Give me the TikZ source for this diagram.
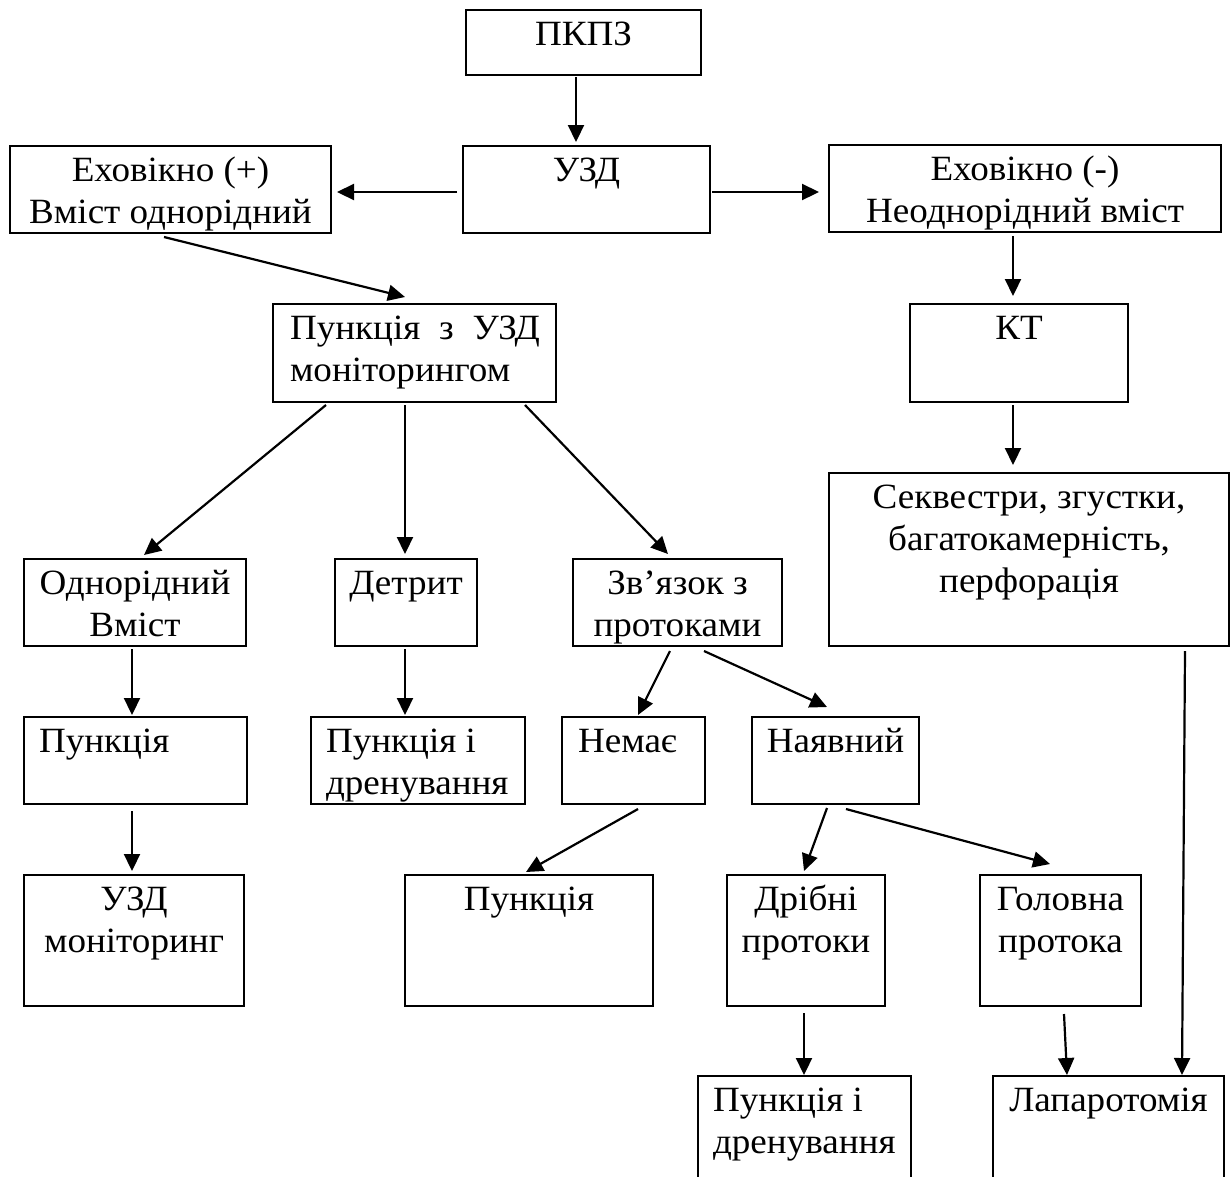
\documentclass[tikz,border=0pt]{standalone}
\usepackage{fontspec}
\setmainfont{Liberation Serif}[FakeStretch=1.045]
\usetikzlibrary{arrows.meta,calc}
\newcommand\bxc[3]{\parbox[c][#2][t]{#1}{\lineskiplimit=-100pt\centering\rule{0pt}{35.5pt}#3\par}}
\newcommand\bxl[4]{\parbox[c][#2][t]{#1}{\lineskiplimit=-100pt\leftskip=#3\relax\rightskip=0pt plus 1fil\rule{0pt}{35.5pt}#4\par}}
\tikzset{
  box/.style={draw, line width=2.6pt, inner sep=0pt, outer sep=0pt, anchor=north west,
    font=\fontsize{35.5}{42}\selectfont},
  arr/.style={line width=2.2pt, -{Triangle[length=17pt,width=16pt]}}
}
\begin{document}
\begin{tikzpicture}[x=1pt,y=-1pt]
\useasboundingbox (0,0) rectangle (1231,1176);
\fill[white] (0,0) rectangle (1231,1176);
\clip (0,0) rectangle (1231,1176);
% boxes
\node[box] (pkpz)   at (466,10)   {\bxc{235pt}{65pt}{ПКПЗ}};
\node[box] (uzd)    at (463,146)  {\bxc{247pt}{87pt}{УЗД}};
\node[box] (eplus)  at (10,146)   {\bxc{321pt}{87pt}{Еховікно (+)\\Вміст однорідний}};
\node[box] (eminus) at (829,145)  {\bxc{392pt}{87pt}{Еховікно (-)\\Неоднорідний вміст}};
\node[box] (punk1)  at (273,304)  {\parbox[c][98pt][t]{283pt}{\lineskiplimit=-100pt\leftskip=17pt\rightskip=16pt\rule{0pt}{35pt}Пункція\hfill з\hfill УЗД\\моніторингом\par}};
\node[box] (kt)     at (910,304)  {\bxc{218pt}{98pt}{КТ}};
\node[box] (odn)    at (24,559)   {\bxc{222pt}{87pt}{Однорідний\\Вміст}};
\node[box] (detr)   at (335,559)  {\bxc{142pt}{87pt}{Детрит}};
\node[box] (zvz)    at (573,559)  {\bxc{209pt}{87pt}{Зв’язок з\\протоками}};
\node[box] (sekv)   at (829,473)  {\bxc{400pt}{173pt}{Секвестри, згустки,\\багатокамерність,\\перфорація}};
\node[box] (punk2)  at (24,717)   {\bxl{223pt}{87pt}{15pt}{Пункція}};
\node[box] (pid1)   at (311,717)  {\bxl{214pt}{87pt}{15pt}{Пункція і\\дренування}};
\node[box] (nema)   at (562,717)  {\bxl{143pt}{87pt}{16pt}{Немає}};
\node[box] (nayav)  at (752,717)  {\bxc{167pt}{87pt}{Наявний}};
\node[box] (uzdmon) at (24,875)   {\bxc{220pt}{131pt}{УЗД\\моніторинг}};
\node[box] (punk3)  at (405,875)  {\bxc{248pt}{131pt}{Пункція}};
\node[box] (dribni) at (727,875)  {\bxc{158pt}{131pt}{Дрібні\\протоки}};
\node[box] (golov)  at (980,875)  {\bxc{161pt}{131pt}{Головна\\протока}};
\node[box] (pid2)   at (698,1076) {\bxl{213pt}{130pt}{15pt}{Пункція і\\дренування}};
\node[box] (lap)    at (993,1076) {\bxc{231pt}{130pt}{Лапаротомія}};
% connectors
\draw[arr] ($(pkpz.south west)+(110,2)$) -- ($(uzd.north west)+(113,-4)$);
\draw[arr] ($(uzd.north west)+(-6,46)$) -- ($(eplus.north east)+(6,46)$);
\draw[arr] ($(uzd.north east)+(2,46)$) -- ($(eminus.north west)+(-10,47)$);
\draw[arr] ($(eplus.south west)+(154,4)$) -- ($(punk1.north west)+(132,-7)$);
\draw[arr] ($(eminus.south west)+(184,4)$) -- ($(kt.north west)+(103,-8)$);
\draw[arr] ($(punk1.south west)+(53,3)$) -- ($(odn.north west)+(120,-4)$);
\draw[arr] ($(punk1.south west)+(132,3)$) -- ($(detr.north west)+(70,-5)$);
\draw[arr] ($(punk1.south west)+(252,3)$) -- ($(zvz.north west)+(95,-5)$);
\draw[arr] ($(kt.south west)+(103,3)$) -- ($(sekv.north west)+(184,-8)$);
\draw[arr] ($(odn.south west)+(108,3)$) -- ($(punk2.north west)+(108,-2)$);
\draw[arr] ($(detr.south west)+(70,3)$) -- ($(pid1.north west)+(94,-2)$);
\draw[arr] ($(zvz.south west)+(97,5)$) -- ($(nema.north west)+(76,-2)$);
\draw[arr] ($(zvz.south west)+(131,5)$) -- ($(nayav.north west)+(75,-10)$);
\draw[arr] ($(nema.south west)+(76,5)$) -- ($(punk3.north west)+(121,-3)$);
\draw[arr] ($(nayav.south west)+(75,4)$) -- ($(dribni.north west)+(77,-4)$);
\draw[arr] ($(nayav.south west)+(94,5)$) -- ($(golov.north west)+(70,-11)$);
\draw[arr] ($(sekv.south west)+(356,5)$) -- ($(lap.north west)+(189,-1)$);
\draw[arr] ($(punk2.south west)+(108,7)$) -- ($(uzdmon.north west)+(108,-4)$);
\draw[arr] ($(dribni.south west)+(77,7)$) -- ($(pid2.north west)+(106,-1)$);
\draw[arr] ($(golov.south west)+(84,8)$) -- ($(lap.north west)+(74,-1)$);
\end{tikzpicture}
\end{document}
